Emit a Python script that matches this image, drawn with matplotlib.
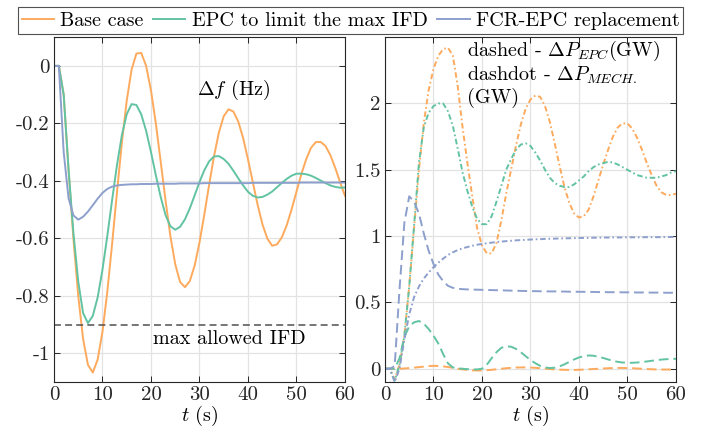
import matplotlib
matplotlib.use("Agg")
import matplotlib.pyplot as plt
import numpy as np

plt.rcParams["font.family"] = ["cmr10", "DejaVu Serif"]
plt.rcParams["mathtext.fontset"] = "cm"
plt.rcParams["axes.unicode_minus"] = False
plt.rcParams["axes.formatter.use_mathtext"] = False
plt.rcParams["lines.scale_dashes"] = False
plt.rcParams["font.size"] = 14.5

# time axis, 1 s steps
t = np.arange(61)

# left panel: frequency deviation (Hz)
base_df = [0, 0, -0.1, -0.36, -0.6, -0.8, -0.95, -1.04, -1.067, -1.022,
           -0.925, -0.785, -0.617, -0.438, -0.267, -0.121, -0.013, 0.043, 0.045, 0.0,
           -0.085, -0.2, -0.333, -0.468, -0.592, -0.69, -0.752, -0.77, -0.749, -0.695,
           -0.615, -0.517, -0.413, -0.314, -0.232, -0.175, -0.151, -0.159, -0.194, -0.251,
           -0.325, -0.405, -0.484, -0.552, -0.601, -0.626, -0.621, -0.596, -0.554, -0.499,
           -0.438, -0.377, -0.325, -0.285, -0.265, -0.265, -0.279, -0.311, -0.355, -0.405,
           -0.452]
epc_df = [0, 0, -0.1, -0.36, -0.58, -0.75, -0.86, -0.895, -0.87, -0.806,
          -0.709, -0.591, -0.465, -0.344, -0.241, -0.168, -0.133, -0.136, -0.169, -0.226,
          -0.3, -0.38, -0.456, -0.519, -0.558, -0.57, -0.56, -0.534, -0.496, -0.451,
          -0.404, -0.363, -0.332, -0.315, -0.314, -0.324, -0.341, -0.365, -0.391, -0.416,
          -0.438, -0.452, -0.458, -0.456, -0.448, -0.437, -0.422, -0.407, -0.393, -0.382,
          -0.375, -0.375, -0.377, -0.382, -0.39, -0.399, -0.408, -0.416, -0.421, -0.424,
          -0.423]
fcr_df = [0, 0, -0.3, -0.46, -0.52, -0.535, -0.525, -0.507, -0.485, -0.462,
          -0.442, -0.428, -0.42, -0.416, -0.414, -0.413, -0.412, -0.412, -0.411, -0.411,
          -0.411, -0.41, -0.41, -0.41, -0.41, -0.41, -0.409, -0.409, -0.409, -0.409,
          -0.409, -0.408, -0.408, -0.408, -0.408, -0.408, -0.408, -0.408, -0.408, -0.408,
          -0.408, -0.407, -0.407, -0.407, -0.407, -0.407, -0.407, -0.407, -0.407, -0.407,
          -0.407, -0.406, -0.406, -0.406, -0.406, -0.406, -0.406, -0.406, -0.406, -0.406,
          -0.406]

# right panel: EPC power (dashed) and mechanical power (dashdot), GW
base_epc = [0, 0, 0, 0, 0.002, 0.005, 0.008, 0.012, 0.016, 0.02,
            0.022, 0.021, 0.018, 0.013, 0.007, 0.0, -0.005, -0.009, -0.012, -0.013,
            -0.013, -0.011, -0.008, -0.004, 0.0, 0.004, 0.007, 0.009, 0.01, 0.01,
            0.009, 0.007, 0.004, 0.001, -0.002, -0.005, -0.007, -0.008, -0.009, -0.009,
            -0.008, -0.006, -0.004, -0.002, 0.0, 0.002, 0.004, 0.005, 0.006, 0.006,
            0.005, 0.004, 0.002, 0.0, -0.002, -0.004, -0.005, -0.006, -0.006, -0.006,
            -0.005]
base_mech = [0, 0, -0.08, 0.03, 0.25, 0.62, 1.06, 1.5, 1.85, 2.1,
             2.26, 2.36, 2.41, 2.42, 2.36, 2.13, 1.82, 1.55, 1.3, 1.06,
             0.93, 0.87, 0.87, 0.95, 1.12, 1.32, 1.5, 1.68, 1.84, 1.96,
             2.03, 2.06, 2.05, 1.98, 1.86, 1.7, 1.53, 1.37, 1.25, 1.17,
             1.14, 1.15, 1.2, 1.3, 1.42, 1.54, 1.65, 1.75, 1.82, 1.85,
             1.85, 1.81, 1.74, 1.65, 1.55, 1.46, 1.38, 1.33, 1.31, 1.31,
             1.32]
epc_epc = [0, 0, 0, 0.08, 0.24, 0.32, 0.35, 0.36, 0.34, 0.3,
           0.25, 0.19, 0.11, 0.04, 0.01, 0.003, 0.0, -0.003, -0.005, -0.005,
           0.0, 0.03, 0.08, 0.125, 0.158, 0.17, 0.166, 0.15, 0.125, 0.095,
           0.066, 0.042, 0.022, 0.01, 0.005, 0.008, 0.018, 0.033, 0.052, 0.07,
           0.085, 0.095, 0.1, 0.098, 0.091, 0.081, 0.07, 0.06, 0.052, 0.047,
           0.045, 0.045, 0.047, 0.05, 0.055, 0.06, 0.065, 0.069, 0.072, 0.074,
           0.075]
epc_mech = [0, 0, -0.09, 0.03, 0.25, 0.62, 1.08, 1.55, 1.82, 1.93,
            1.98, 2.0, 2.0, 1.94, 1.83, 1.66, 1.48, 1.34, 1.22, 1.13,
            1.09, 1.09, 1.15, 1.26, 1.38, 1.5, 1.58, 1.65, 1.69, 1.7,
            1.68, 1.63, 1.57, 1.5, 1.44, 1.4, 1.38, 1.37, 1.37, 1.39,
            1.42, 1.45, 1.49, 1.52, 1.54, 1.55, 1.56, 1.555, 1.54, 1.52,
            1.5, 1.48, 1.46, 1.45, 1.44, 1.44, 1.44, 1.45, 1.46, 1.48,
            1.49]
fcr_epc = [0, 0, 0.02, 0.6, 1.1, 1.3, 1.26, 1.17, 1.02, 0.89,
           0.79, 0.71, 0.66, 0.625, 0.61, 0.603, 0.6, 0.598, 0.597, 0.596,
           0.595, 0.594, 0.593, 0.592, 0.591, 0.59, 0.589, 0.588, 0.587, 0.586,
           0.585, 0.585, 0.584, 0.584, 0.583, 0.583, 0.582, 0.582, 0.581, 0.581,
           0.58, 0.58, 0.579, 0.579, 0.578, 0.578, 0.577, 0.577, 0.577, 0.576,
           0.576, 0.576, 0.575, 0.575, 0.575, 0.574, 0.574, 0.574, 0.573, 0.573,
           0.573]
fcr_mech = [0, 0, -0.1, 0.0, 0.22, 0.41, 0.54, 0.62, 0.68, 0.725,
            0.765, 0.8, 0.83, 0.858, 0.878, 0.895, 0.908, 0.918, 0.927, 0.935,
            0.941, 0.946, 0.951, 0.955, 0.959, 0.962, 0.965, 0.968, 0.97, 0.972,
            0.974, 0.976, 0.977, 0.979, 0.98, 0.981, 0.982, 0.983, 0.984, 0.985,
            0.986, 0.986, 0.987, 0.988, 0.988, 0.989, 0.989, 0.99, 0.99, 0.99,
            0.991, 0.991, 0.991, 0.991, 0.992, 0.992, 0.992, 0.992, 0.993, 0.993,
            0.993]

labels = ["Base case", "EPC to limit the max IFD", "FCR-EPC replacement"]
colors = ["#fdaa5d", "#62c3a3", "#8d9fcc"]
max_ifd = -0.9

dashed = (0, (7, 3.5))
dashdot = (0, (4, 2, 1.2, 2))

fig = plt.figure(figsize=(7.02, 4.30), dpi=100)
ax1 = fig.add_axes([0.0769, 0.1116, 0.4145, 0.802])
ax2 = fig.add_axes([0.5484, 0.1116, 0.4145, 0.802])

handles = []
for y, c, lab in zip([base_df, epc_df, fcr_df], colors, labels):
    h, = ax1.plot(t, y, color=c, lw=1.4, label=lab)
    handles.append(h)
ax1.axhline(max_ifd, color="#505050", ls=(0, (5, 3)), lw=1.1)
ax1.text(20.4, -0.95, "max allowed IFD", va="center", ha="left")
ax1.text(29.5, -0.085, r"$\Delta f$ (Hz)", va="center", ha="left")
ax1.set_xlim(0, 60)
ax1.set_ylim(-1.1, 0.1)
ax1.set_yticks([0, -0.2, -0.4, -0.6, -0.8, -1])

for ep, me, c in zip([base_epc, epc_epc, fcr_epc], [base_mech, epc_mech, fcr_mech], colors):
    ax2.plot(t, ep, color=c, lw=1.4, ls=dashed)
    ax2.plot(t, me, color=c, lw=1.4, ls=dashdot)
ax2.text(17, 2.485, "dashed - $\\Delta P_{EPC}$(GW)\ndashdot - $\\Delta P_{MECH.}$\n(GW)",
         va="top", ha="left", linespacing=1.1)
ax2.set_xlim(0, 60)
ax2.set_ylim(-0.1, 2.5)
ax2.set_yticks([0, 0.5, 1, 1.5, 2])

for ax in (ax1, ax2):
    ax.set_xticks([0, 10, 20, 30, 40, 50, 60])
    ax.yaxis.set_major_formatter(matplotlib.ticker.FuncFormatter(lambda v, p: "%g" % v))
    ax.grid(True, color="#e3e3e3", lw=0.9)
    ax.set_axisbelow(True)
    ax.tick_params(direction="in", length=4, width=0.7, top=True, right=True,
                   colors="#262626", labelsize=15, pad=3)
    for s in ax.spines.values():
        s.set_color("#262626")
        s.set_linewidth(0.8)
    ax.set_xlabel("$t$ (s)", fontsize=14.5, labelpad=0)

leg = fig.legend(handles=handles, loc="center", bbox_to_anchor=(350.5 / 702, 1 - 20.5 / 430),
                 ncol=3, frameon=True, fancybox=False, edgecolor="#262626",
                 handlelength=1.6, handletextpad=0.3, columnspacing=0.5, borderpad=0.2,
                 fontsize=14.5)
leg.get_frame().set_linewidth(0.8)

fig.savefig("out.png", dpi=100)
